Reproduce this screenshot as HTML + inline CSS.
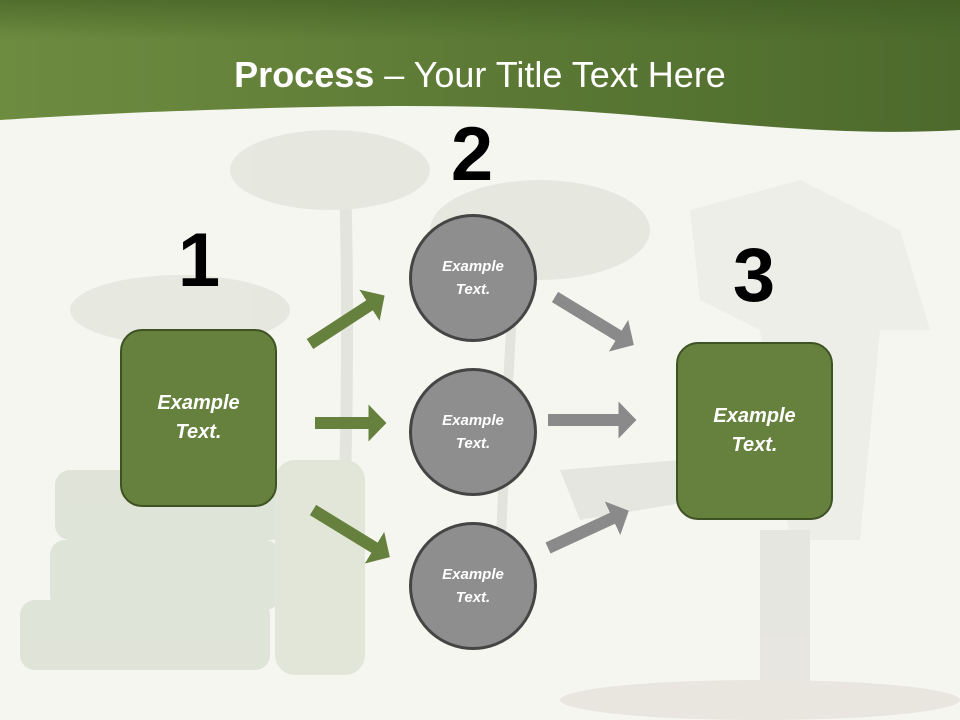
<!DOCTYPE html>
<html><head><meta charset="utf-8">
<style>
html,body{margin:0;padding:0;}
body{width:960px;height:720px;overflow:hidden;background:#f6f6f1;position:relative;font-family:"Liberation Sans",sans-serif;}
.title{position:absolute;left:0;width:960px;top:54px;text-align:center;color:#fff;font-size:36px;}
.num{position:absolute;font-size:76px;font-weight:bold;color:#000;width:100px;text-align:center;line-height:1;}
.box{position:absolute;width:157px;height:178px;background:#66803d;border:2.5px solid #3e5224;border-radius:22px;color:#fff;font-style:italic;font-weight:bold;font-size:20px;display:flex;align-items:center;justify-content:center;text-align:center;line-height:29px;box-sizing:border-box;}
.circ{position:absolute;width:128px;height:128px;border-radius:50%;background:#8e8e8e;border:3px solid #454545;box-sizing:border-box;color:#fff;font-style:italic;font-weight:bold;font-size:15px;display:flex;align-items:center;justify-content:center;text-align:center;line-height:23px;}
</style></head><body>
<svg width="960" height="720" style="position:absolute;left:0;top:0">
<defs>
<linearGradient id="hg" x1="0" y1="0" x2="1" y2="0">
<stop offset="0" stop-color="#6e8c40"/><stop offset="0.5" stop-color="#5c7a35"/><stop offset="1" stop-color="#4d6a2c"/>
</linearGradient>
<linearGradient id="hv" x1="0" y1="0" x2="0" y2="1">
<stop offset="0" stop-color="#3f5a22" stop-opacity="0.6"/><stop offset="1" stop-color="#3f5a22" stop-opacity="0"/>
</linearGradient>
<marker id="ag" markerWidth="1.6" markerHeight="3.1" refX="0.05" refY="1.55" orient="auto" markerUnits="strokeWidth"><path d="M0,0 L1.5,1.55 L0,3.1z" fill="#66803d"/></marker>
<marker id="agr" markerWidth="1.6" markerHeight="3.1" refX="0.05" refY="1.55" orient="auto" markerUnits="strokeWidth"><path d="M0,0 L1.5,1.55 L0,3.1z" fill="#8a8a8a"/></marker>
</defs>
<g opacity="0.16">
<path d="M340 660 C345 500 350 350 345 180" stroke="#8a8a80" stroke-width="12" fill="none"/>
<path d="M500 560 C505 450 510 320 520 200" stroke="#8a8a80" stroke-width="10" fill="none"/>
<ellipse cx="330" cy="170" rx="100" ry="40" fill="#9aa68a"/>
<ellipse cx="540" cy="230" rx="110" ry="50" fill="#9aa68a"/>
<ellipse cx="180" cy="310" rx="110" ry="35" fill="#9aa68a"/>
<rect x="55" y="470" width="230" height="70" rx="15" fill="#6f8a5a"/>
<rect x="50" y="540" width="230" height="70" rx="15" fill="#6f8a5a"/>
<rect x="20" y="600" width="250" height="70" rx="15" fill="#6f8a5a"/>
<rect x="275" y="460" width="90" height="215" rx="20" fill="#7a9a5a"/>
<path d="M690 210 L800 180 L900 230 L930 330 L880 330 L860 540 L790 540 L760 330 L700 300z" fill="#c8c6bc"/>
<rect x="760" y="530" width="50" height="160" fill="#9a9890"/>
<path d="M560 470 L680 460 L700 500 L580 520z" fill="#9a9890"/>
</g>
<ellipse cx="760" cy="700" rx="200" ry="20" fill="#e8e6de"/>
<path d="M0 0 H960 V130 C820 138 700 118 560 110 C420 102 260 108 150 112 C80 115 30 118 0 120 Z" fill="url(#hg)"/>
<path d="M0 0 H960 V40 H0Z" fill="url(#hv)"/>
<g stroke="#66803d" stroke-width="12" fill="none">
<line x1="310" y1="344" x2="370" y2="305" marker-end="url(#ag)"/>
<line x1="315" y1="423" x2="369" y2="423" marker-end="url(#ag)"/>
<line x1="313" y1="510" x2="375" y2="548" marker-end="url(#ag)"/>
</g>
<g stroke="#8a8a8a" stroke-width="12" fill="none">
<line x1="555" y1="297" x2="619" y2="336" marker-end="url(#agr)"/>
<line x1="548" y1="420" x2="619" y2="420" marker-end="url(#agr)"/>
<line x1="548" y1="548" x2="613" y2="518" marker-end="url(#agr)"/>
</g>
</svg>
<div class="title"><b>Process</b> – Your Title Text Here</div>
<div class="num" style="left:149px;top:223px">1</div>
<div class="num" style="left:422px;top:117px">2</div>
<div class="num" style="left:704px;top:238px">3</div>
<div class="box" style="left:120px;top:329px">Example<br>Text.</div>
<div class="box" style="left:676px;top:342px">Example<br>Text.</div>
<div class="circ" style="left:409px;top:214px">Example<br>Text.</div>
<div class="circ" style="left:409px;top:368px">Example<br>Text.</div>
<div class="circ" style="left:409px;top:522px">Example<br>Text.</div>
</body></html>
